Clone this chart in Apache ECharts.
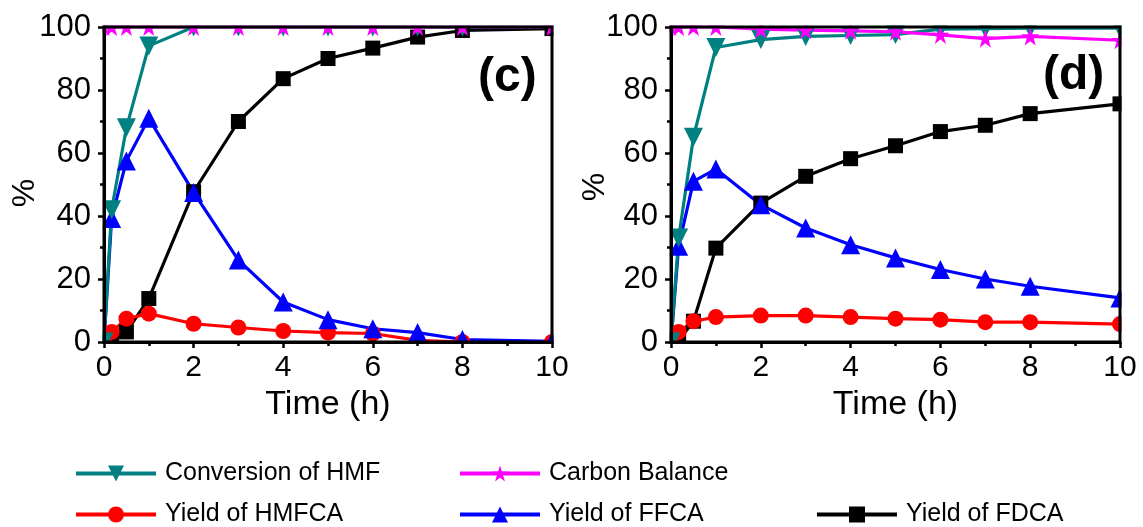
<!DOCTYPE html>
<html>
<head>
<meta charset="utf-8">
<script src="https://cdn.jsdelivr.net/npm/echarts@6/dist/echarts.min.js"></script>
<style>
html,body{margin:0;padding:0;background:#fff;}
#chart{width:1143px;height:527px;}
</style>
</head>
<body>
<div id="chart"></div>
<script>
// ---- data ----
var timesC = [0, 0.17, 0.5, 1, 2, 3, 4, 5, 6, 7, 8, 10];
var timesD = [0, 0.17, 0.5, 1, 2, 3, 4, 5, 6, 7, 8, 10];
var xTicks = [0, 2, 4, 6, 8, 10];
var yTicks = [0, 20, 40, 60, 80, 100];

// panel (c)
var convC   = [0, 42, 68, 94, 100, 100, 100, 100, 100, 100, 100, 100];
var carbonC = [100, 100, 100, 100, 100, 100, 100, 100, 100, 100, 100, 100];
var hmfcaC  = [0, 3.2, 7.4, 9.0, 5.8, 4.6, 3.5, 3.0, 2.7, 0.5, 0, 0];
var ffcaC   = [0, 39.2, 57.5, 71, 47.5, 26, 12.7, 7.1, 4.2, 3.0, 0.8, 0.2];
var fdcaC   = [0, 0.5, 3.2, 13.8, 47.7, 70, 83.6, 90, 93.3, 96.8, 98.9, 99.5];

// panel (d)
var convD   = [0, 33, 65, 93.5, 96, 97, 97.3, 97.6, 99.3, 99.5, 99.6, 99.6];
var carbonD = [100, 100, 100, 100, 99.3, 99, 98.8, 98.5, 97.5, 96.3, 97, 95.8];
var hmfcaD  = [0, 3.2, 6.6, 7.9, 8.4, 8.4, 7.9, 7.4, 7.1, 6.3, 6.3, 5.7];
var ffcaD   = [0, 30.4, 51, 54.9, 43.6, 36.2, 30.9, 26.7, 23, 20, 17.7, 14];
var fdcaD   = [0, 0.5, 6.6, 29.8, 44.1, 52.6, 58.2, 62.3, 66.8, 68.8, 72.5, 75.6];

var names = ['Conversion of HMF', 'Carbon Balance', 'Yield of HMFCA', 'Yield of FFCA', 'Yield of FDCA'];
var panelLabels = ['(c)', '(d)'];
var xName = 'Time (h)';
var yName = '%';

// ---- styling ----
var FONT = 'Liberation Sans, Arial, sans-serif';
var STAR = 'path://M50,0 L61.8,35.3 L99,35.3 L68.9,57.1 L80.4,92.7 L50,70.6 L19.6,92.7 L31.1,57.1 L1,35.3 L38.2,35.3 Z';
var styles = [
  {color: '#008080', symbol: 'triangle', rotate: 180, size: 19},
  {color: '#FF00FF', symbol: STAR, rotate: 0, size: 18},
  {color: '#FF0000', symbol: 'circle', rotate: 0, size: 16},
  {color: '#0000FF', symbol: 'triangle', rotate: 0, size: 19},
  {color: '#000000', symbol: 'rect', rotate: 0, size: 15}
];

function pairs(t, v) { return t.map(function (x, i) { return [x, v[i]]; }); }

var G = [
  {l: 104, t: 27, w: 448, h: 315},
  {l: 671, t: 27, w: 449, h: 315}
];
var grids = G.map(function (g) {
  return {left: g.l, top: g.t, width: g.w, height: g.h, show: true, z: 10,
    borderColor: '#000', borderWidth: 3, backgroundColor: 'transparent'};
});

function xAx(i) {
  return {
    type: 'value', gridIndex: i, min: 0, max: 10, interval: 2, z: 10,
    name: xName, nameLocation: 'middle', nameGap: 38,
    nameTextStyle: {fontSize: 34, color: '#000', fontFamily: FONT},
    axisLine: {show: true, onZero: false, lineStyle: {color: '#000', width: 3}},
    axisTick: {show: true, inside: false, length: 6, lineStyle: {color: '#000', width: 2.5}},
    minorTick: {show: true, splitNumber: 2, length: 4, lineStyle: {color: '#000', width: 2.5}},
    axisLabel: {fontSize: 30, color: '#000', fontFamily: FONT, margin: 11,
      formatter: function (v) { return xTicks.indexOf(v) >= 0 ? String(v) : ''; }},
    splitLine: {show: false}
  };
}
function yAx(i) {
  return {
    type: 'value', gridIndex: i, min: 0, max: 100, interval: 20, z: 10,
    axisLine: {show: true, onZero: false, lineStyle: {color: '#000', width: 3}},
    axisTick: {show: true, inside: false, length: 6, lineStyle: {color: '#000', width: 2.5}},
    minorTick: {show: true, splitNumber: 2, length: 4, lineStyle: {color: '#000', width: 2.5}},
    axisLabel: {fontSize: 31, color: '#000', fontFamily: FONT, margin: 13,
      formatter: function (v) { return yTicks.indexOf(v) >= 0 ? String(v) : ''; }},
    splitLine: {show: false}
  };
}

var panelData = [
  {t: timesC, vals: [convC, carbonC, hmfcaC, ffcaC, fdcaC]},
  {t: timesD, vals: [convD, carbonD, hmfcaD, ffcaD, fdcaD]}
];
// drawing order: FDCA, HMFCA, FFCA, Conversion, Carbon (carbon on top)
var order = [4, 2, 3, 0, 1];
var series = [];
panelData.forEach(function (p, gi) {
  order.forEach(function (k) {
    var s = styles[k];
    series.push({
      type: 'line', name: names[k], xAxisIndex: gi, yAxisIndex: gi, z: 2,
      data: pairs(p.t, p.vals[k]),
      symbol: s.symbol, symbolSize: s.size, symbolRotate: s.rotate,
      showAllSymbol: true, clip: false,
      lineStyle: {color: s.color, width: 3.2},
      itemStyle: {color: s.color},
      emphasis: {disabled: true},
      animation: false
    });
  });
});

var legendPos = [
  {name: names[0], left: 74, top: 461},
  {name: names[1], left: 458, top: 461},
  {name: names[2], left: 74, top: 502},
  {name: names[3], left: 458, top: 502},
  {name: names[4], left: 815, top: 502}
];
var legends = legendPos.map(function (l) {
  return {
    data: [l.name], left: l.left, top: l.top, padding: 0,
    itemWidth: 80, itemHeight: 20, orient: 'horizontal',
    selectedMode: false,
    lineStyle: {width: 4},
    textStyle: {fontSize: 25, color: '#000', fontFamily: FONT, padding: [0, 0, 0, 4]}
  };
});

// white masks just outside each frame so markers look clipped at the frame
var masks = [];
G.forEach(function (g) {
  var r = g.l + g.w, b = g.t + g.h;
  [
    [g.l - 14, 0, g.w + 28, g.t - 1.5],
    [g.l - 14, b + 1.5, g.w + 28, 12],
    [g.l - 14, 0, 12.5, b + 14],
    [r + 1.5, 0, 12.5, b + 14]
  ].forEach(function (m) {
    masks.push({type: 'rect', z: 3, silent: true,
      shape: {x: m[0], y: m[1], width: m[2], height: m[3]},
      style: {fill: '#fff'}});
  });
});

var texts = [
  {type: 'text', z: 12, left: 478, top: 54, style: {text: panelLabels[0], font: 'bold 48px ' + FONT, fill: '#000'}},
  {type: 'text', z: 12, left: 1043, top: 52, style: {text: panelLabels[1], font: 'bold 48px ' + FONT, fill: '#000'}},
  {type: 'text', z: 12, x: 25, y: 193, rotation: Math.PI / 2,
    style: {text: yName, font: '32px ' + FONT, fill: '#000', align: 'center', verticalAlign: 'middle'}},
  {type: 'text', z: 12, x: 595, y: 187, rotation: Math.PI / 2,
    style: {text: yName, font: '32px ' + FONT, fill: '#000', align: 'center', verticalAlign: 'middle'}}
];

var chart = echarts.init(document.getElementById('chart'), null, {renderer: 'canvas'});
chart.setOption({
  backgroundColor: '#fff',
  animation: false,
  grid: grids,
  xAxis: [xAx(0), xAx(1)],
  yAxis: [yAx(0), yAx(1)],
  legend: legends,
  series: series,
  graphic: masks.concat(texts)
});
</script>
</body>
</html>
